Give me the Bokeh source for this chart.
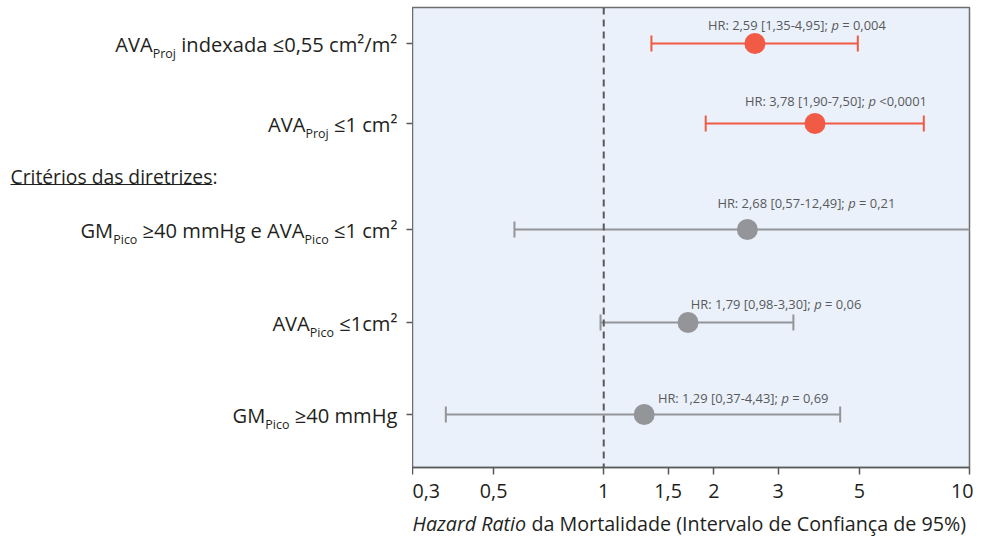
import os
import struct
import subprocess

from bokeh.plotting import figure
from bokeh.models import Range1d, FixedTicker, Span
from bokeh.layouts import row, column
from bokeh.embed import file_html
from bokeh.resources import INLINE
from bokeh.core.properties import value

# ---------------- data ----------------
row_labels = [
    [("AVA", "n"), ("Proj", "s"), (" indexada ≤0,55 cm²/m²", "n")],
    [("AVA", "n"), ("Proj", "s"), (" ≤1 cm²", "n")],
    [("GM", "n"), ("Pico", "s"), (" ≥40 mmHg e AVA", "n"), ("Pico", "s"), (" ≤1 cm²", "n")],
    [("AVA", "n"), ("Pico", "s"), (" ≤1cm²", "n")],
    [("GM", "n"), ("Pico", "s"), (" ≥40 mmHg", "n")],
]
heading_text = "Critérios das diretrizes"
heading_colon = ":"
hr_plot = [2.59, 3.78, 2.47, 1.70, 1.29]
ci_low = [1.35, 1.90, 0.57, 0.98, 0.37]
ci_high = [4.95, 7.50, 12.49, 3.30, 4.43]
hr_text = ["2,59", "3,78", "2,68", "1,79", "1,29"]
ci_text = ["1,35-4,95", "1,90-7,50", "0,57-12,49", "0,98-3,30", "0,37-4,43"]
p_text = ["= 0,004", "<0,0001", "= 0,21", "= 0,06", "= 0,69"]
group = ["proj", "proj", "guide", "guide", "guide"]
x_ticks = [0.3, 0.5, 1, 1.5, 2, 3, 5, 10]
x_tick_labels = ["0,3", "0,5", "1", "1,5", "2", "3", "5", "10"]
title_italic = "Hazard Ratio"
title_regular = "da Mortalidade (Intervalo de Confiança de 95%)"

# ---------------- layout / style ----------------
FONT = "Open Sans"
TXT = "#231F20"
ANN = "#58595B"
AX = "#58595B"
OUT = "#6D6E71"
BG = "#EAF1FA"
COL = {"proj": "#F15A45", "guide": "#939598"}
SUB = 0.62

W_LEFT = 412
W_RIGHT = 561
FRAME_H = 460
TOP = 7
BOTTOM = 38
FIG_H = TOP + FRAME_H + BOTTOM
STRIP_H = 32
row_pos = [36, 116, 222, 315, 407]
sub_drop = 10
heading_mid = 169
underline_y = 177
ann_dx = [42, 21, 59, 88, 99]
ann_dy = [-19, -23, -27, -19, -17]
LABEL_RIGHT = 397
TITLE_LEFT = 412
TITLE_MID = 18


# ---------------- font metrics ----------------
class FontMetrics:
    def __init__(self, path):
        data = open(path, "rb").read()
        base = 0
        if data[:4] == b"ttcf":
            base = struct.unpack(">I", data[12:16])[0]
        num = struct.unpack(">H", data[base + 4:base + 6])[0]
        tables = {}
        for i in range(num):
            rec = data[base + 12 + 16 * i: base + 28 + 16 * i]
            tables[rec[:4].decode("latin1")] = struct.unpack(">I", rec[8:12])[0]
        h = tables["head"]
        self.upm = struct.unpack(">H", data[h + 18:h + 20])[0]
        hh = tables["hhea"]
        nh = struct.unpack(">H", data[hh + 34:hh + 36])[0]
        hm = tables["hmtx"]
        self.adv = [struct.unpack(">H", data[hm + 4 * i:hm + 4 * i + 2])[0] for i in range(nh)]
        self.cmap = self._cmap(data, tables["cmap"])

    @staticmethod
    def _cmap(data, c):
        n = struct.unpack(">H", data[c + 2:c + 4])[0]
        st = None
        for i in range(n):
            pid, eid, off = struct.unpack(">HHI", data[c + 4 + 8 * i:c + 12 + 8 * i])
            fmt = struct.unpack(">H", data[c + off:c + off + 2])[0]
            if fmt == 4 and (pid == 0 or (pid == 3 and eid == 1)):
                st = c + off
                break
        m = {}
        if st is None:
            return m
        seg2 = struct.unpack(">H", data[st + 6:st + 8])[0]
        seg = seg2 // 2
        ends = struct.unpack(">%dH" % seg, data[st + 14:st + 14 + seg2])
        starts = struct.unpack(">%dH" % seg, data[st + 16 + seg2:st + 16 + 2 * seg2])
        deltas = struct.unpack(">%dh" % seg, data[st + 16 + 2 * seg2:st + 16 + 3 * seg2])
        ro = st + 16 + 3 * seg2
        roffs = struct.unpack(">%dH" % seg, data[ro:ro + seg2])
        for s in range(seg):
            for ch in range(starts[s], ends[s] + 1):
                if ch == 0xFFFF:
                    continue
                if roffs[s] == 0:
                    g = (ch + deltas[s]) & 0xFFFF
                else:
                    a = ro + 2 * s + roffs[s] + 2 * (ch - starts[s])
                    g = struct.unpack(">H", data[a:a + 2])[0]
                    if g:
                        g = (g + deltas[s]) & 0xFFFF
                m[ch] = g
        return m

    def width(self, text, size):
        tot = 0
        for ch in text:
            g = self.cmap.get(ord(ch), 0)
            tot += self.adv[g] if g < len(self.adv) else self.adv[-1]
        return tot * size / self.upm


def load_metrics(spec):
    try:
        r = subprocess.run(["fc-match", "-f", "%{file}", spec], capture_output=True, text=True, timeout=10)
        pth = r.stdout.strip()
        if pth and os.path.exists(pth):
            return FontMetrics(pth)
    except Exception:
        pass
    return None


m_reg = load_metrics(FONT + ":style=Regular")
m_it = load_metrics(FONT + ":style=Italic") or m_reg


def tw(text, size, italic=False):
    m = m_it if italic else m_reg
    if m is None:
        return len(text) * 0.55 * size
    try:
        return m.width(text, size)
    except Exception:
        return len(text) * 0.55 * size


def clamp(v, lo, hi):
    return max(lo, min(hi, v))


def segs_width(segs, s):
    return sum(tw(t, s if k == "n" else s * SUB) for t, k in segs)


s_title = clamp(554 / (tw(title_italic, 1, True) + tw(" " + title_regular, 1)), 12, 22)
s_lab = clamp(317 / segs_width(row_labels[2], 1), 12, 22)
s_head = clamp(207 / tw(heading_text + heading_colon, 1), 12, 22)
a0 = "HR: %s [%s]; " % (hr_text[0], ci_text[0])
s_ann = clamp(178 / (tw(a0, 1) + tw("p", 1, True) + tw(" " + p_text[0], 1)), 9, 15)


def put_text(fig, x, y, t, size, italic=False, color=TXT):
    lead = len(t) - len(t.lstrip(" "))
    if lead:
        x += tw(" " * lead, size, italic)
        t = t.lstrip(" ")
    fig.text(x=[x], y=[y], text=[t], text_font=value(FONT), text_font_size=value("%.2fpx" % size),
             text_font_style=value("italic" if italic else "normal"),
             text_align=value("left"), text_baseline=value("middle"), text_color=color)


yr = Range1d(FRAME_H, 0)

# ---------------- left figure (row labels) ----------------
pl = figure(width=W_LEFT, height=FIG_H, x_range=Range1d(0, W_LEFT), y_range=yr,
            output_backend="svg", toolbar_location=None,
            x_axis_location=None, y_axis_location=None,
            min_border_top=TOP, min_border_bottom=BOTTOM, min_border_left=0, min_border_right=0)
pl.outline_line_color = None
pl.xgrid.visible = False
pl.ygrid.visible = False
pl.background_fill_color = "white"
pl.border_fill_color = "white"

for segs, yv in zip(row_labels, row_pos):
    x = LABEL_RIGHT - segs_width(segs, s_lab)
    for t, k in segs:
        sz = s_lab if k == "n" else s_lab * SUB
        put_text(pl, x, yv + (sub_drop if k == "s" else 0), t, sz)
        x += tw(t, sz)

put_text(pl, 10, heading_mid, heading_text, s_head)
hw = tw(heading_text, s_head)
put_text(pl, 10 + hw, heading_mid, heading_colon, s_head)
pl.segment(x0=[10], y0=[underline_y], x1=[10 + hw], y1=[underline_y], line_color=TXT, line_width=1)

pl.segment(x0=[W_LEFT - 6] * len(row_pos), y0=row_pos, x1=[W_LEFT] * len(row_pos), y1=row_pos,
           line_color=AX, line_width=1.5)

# ---------------- right figure (forest plot) ----------------
pr = figure(width=W_RIGHT, height=FIG_H, x_axis_type="log", x_range=Range1d(0.3, 10), y_range=yr,
            y_axis_location=None, output_backend="svg", toolbar_location=None,
            min_border_top=TOP, min_border_bottom=BOTTOM, min_border_left=0, min_border_right=4)
pr.background_fill_color = BG
pr.border_fill_color = "white"
pr.outline_line_color = OUT
pr.outline_line_width = 1.5
pr.xgrid.visible = False
pr.ygrid.visible = False

ax = pr.xaxis[0]
ax.ticker = FixedTicker(ticks=x_ticks)
ax.major_label_overrides = {(int(t) if float(t).is_integer() else t): lab
                            for t, lab in zip(x_ticks, x_tick_labels)}
ax.minor_tick_line_color = None
ax.major_tick_in = 0
ax.major_tick_out = 7
ax.major_tick_line_color = AX
ax.major_tick_line_width = 1.5
ax.axis_line_color = AX
ax.axis_line_width = 1.5
ax.major_label_text_font = FONT
ax.major_label_text_font_size = "%.2fpx" % s_title
ax.major_label_text_color = TXT
ax.major_label_standoff = 9

pr.add_layout(Span(location=1, dimension="height", line_color=AX, line_width=2, line_dash="7 5"))

cols = [COL[g] for g in group]
pr.segment(x0=ci_low, y0=row_pos, x1=ci_high, y1=row_pos, line_color=cols, line_width=2)
pr.segment(x0=ci_low, y0=[y - 8 for y in row_pos], x1=ci_low, y1=[y + 8 for y in row_pos],
           line_color=cols, line_width=2)
pr.segment(x0=ci_high, y0=[y - 8 for y in row_pos], x1=ci_high, y1=[y + 8 for y in row_pos],
           line_color=cols, line_width=2)
pr.scatter(x=hr_plot, y=row_pos, size=21, fill_color=cols, line_color=None, marker="circle")

for i in range(len(hr_plot)):
    a = "HR: %s [%s];" % (hr_text[i], ci_text[i])
    sp = tw(" ", s_ann)
    wa = tw(a, s_ann)
    wp = tw("p", s_ann, True)
    wb = tw(p_text[i], s_ann)
    total = wa + sp + wp + sp + wb
    start = ann_dx[i] - total / 2
    yv = row_pos[i] + ann_dy[i]
    pieces = [(a, False, start), ("p", True, start + wa + sp), (p_text[i], False, start + wa + sp + wp + sp)]
    for t, it, off in pieces:
        pr.text(x=[hr_plot[i]], y=[yv], text=[t], x_offset=off, text_font=value(FONT),
                text_font_size=value("%.2fpx" % s_ann),
                text_font_style=value("italic" if it else "normal"),
                text_align=value("left"), text_baseline=value("middle"), text_color=ANN)

# ---------------- bottom strip (axis title, mixed italic / regular) ----------------
W_ALL = W_LEFT + W_RIGHT
pt = figure(width=W_ALL, height=STRIP_H, x_range=Range1d(0, W_ALL), y_range=Range1d(STRIP_H, 0),
            output_backend="svg", toolbar_location=None, x_axis_location=None, y_axis_location=None,
            min_border=0)
pt.outline_line_color = None
pt.xgrid.visible = False
pt.ygrid.visible = False
put_text(pt, TITLE_LEFT, TITLE_MID, title_italic, s_title, italic=True)
put_text(pt, TITLE_LEFT + tw(title_italic + " ", s_title, True), TITLE_MID, title_regular, s_title)

layout = column(row(pl, pr), pt)
open("out.html", "w").write(file_html(layout, INLINE))
